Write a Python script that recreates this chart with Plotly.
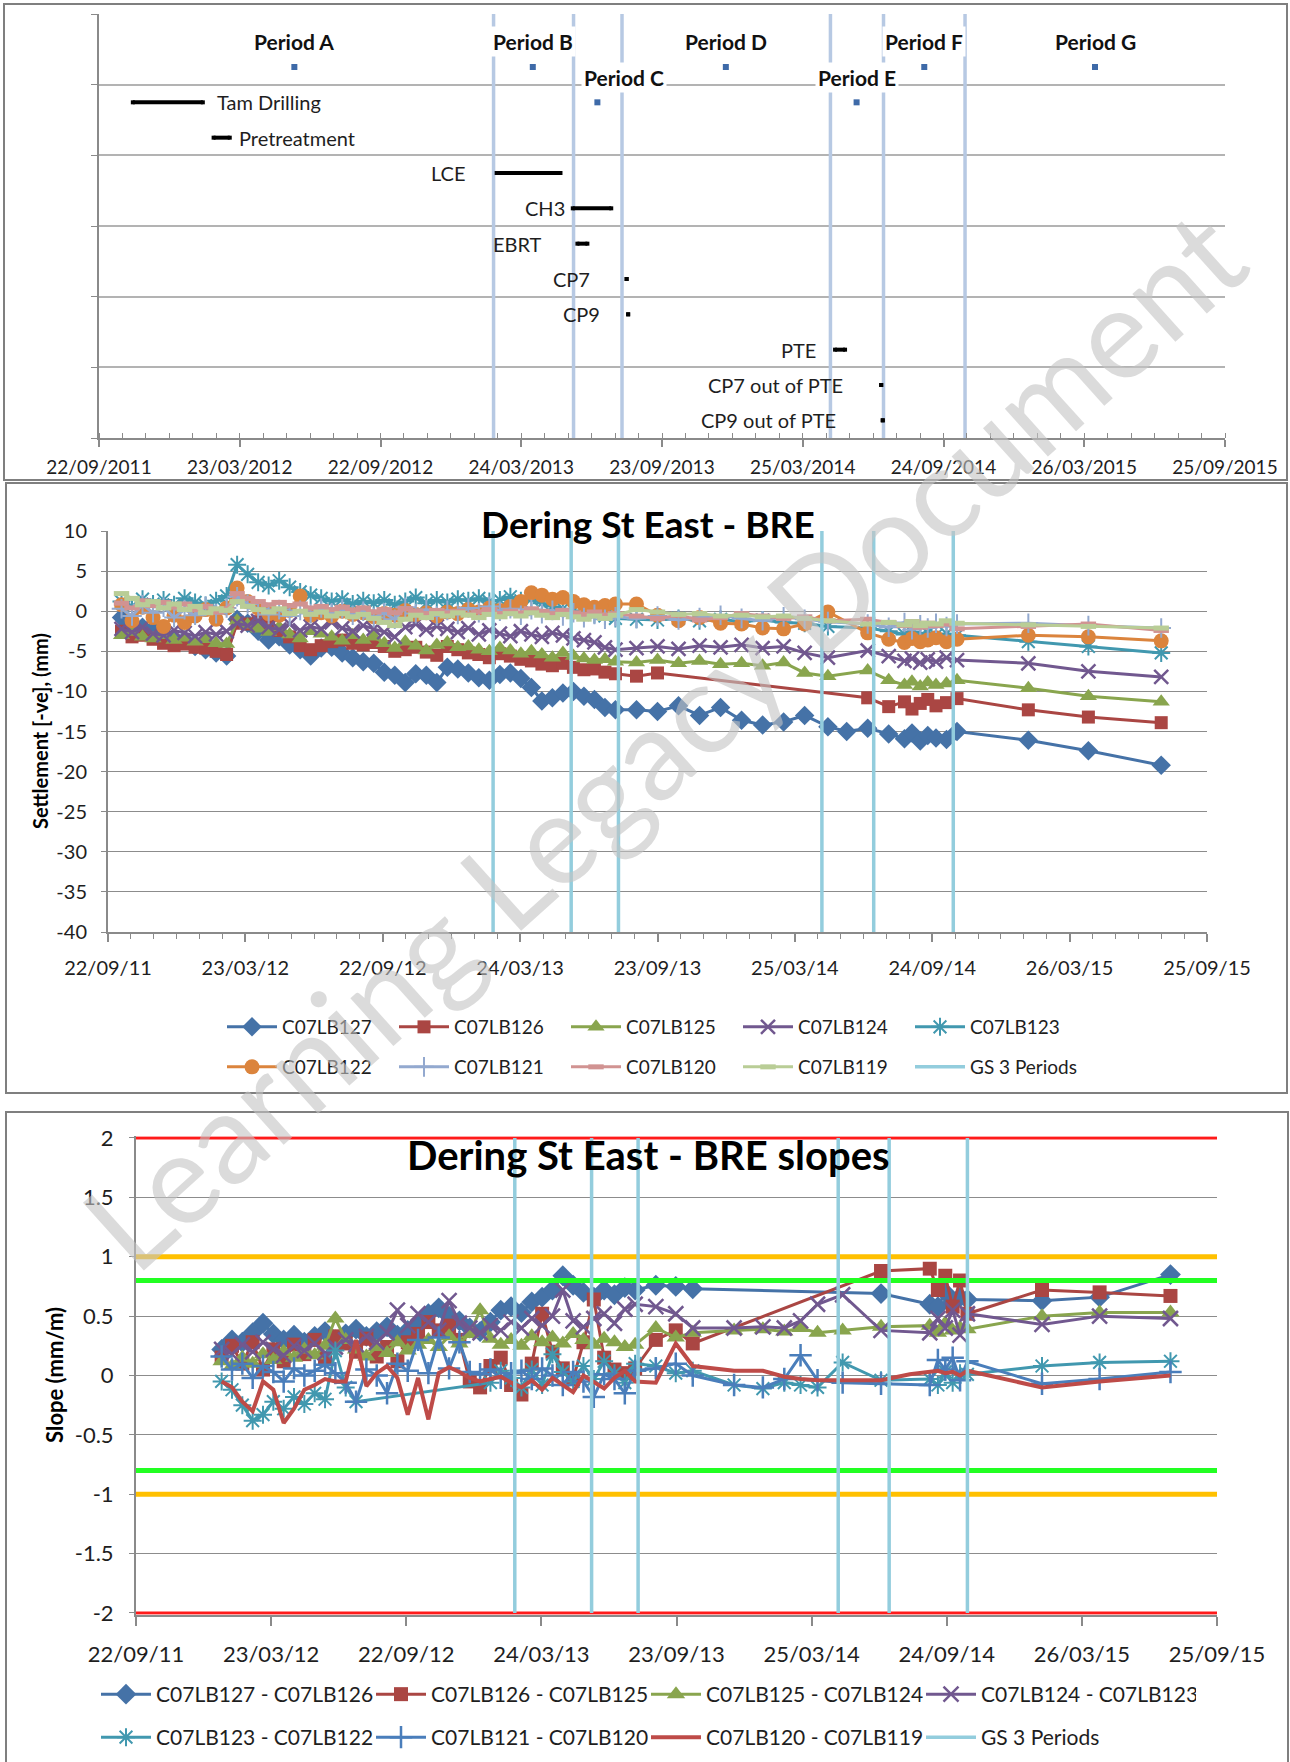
import plotly.graph_objects as go

W, H = 1290, 1762
FONT = "Lato, 'Open Sans', 'DejaVu Sans', sans-serif"

# ---------------- shared axis data ----------------
x_range = ["2011-09-22", "2015-09-25"]
tick_dates = ["2011-09-22", "2012-03-23", "2012-09-22", "2013-03-24", "2013-09-23",
              "2014-03-25", "2014-09-24", "2015-03-26", "2015-09-25"]
tick_text_long = ["22/09/2011", "23/03/2012", "22/09/2012", "24/03/2013", "23/09/2013",
                  "25/03/2014", "24/09/2014", "26/03/2015", "25/09/2015"]
tick_text_short = ["22/09/11", "23/03/12", "22/09/12", "24/03/13", "23/09/13",
                   "25/03/14", "24/09/14", "26/03/15", "25/09/15"]

# ---------------- top panel (programme) ----------------
period_bounds = ["2013-02-16", "2013-05-31", "2013-08-02", "2014-04-30", "2014-07-08", "2014-10-22"]
period_names = ["Period A", "Period B", "Period C", "Period D", "Period E", "Period F", "Period G"]
period_mid_dates = ["2012-06-02", "2013-04-08", "2013-07-01", "2013-12-15", "2014-06-03", "2014-08-30", "2015-04-09"]
period_rows = [5.25, 5.25, 4.75, 5.25, 4.75, 5.25, 5.25]

activity_names = ["Tam Drilling", "Pretreatment", "LCE", "CH3", "EBRT", "CP7", "CP9", "PTE",
                  "CP7 out of PTE", "CP9 out of PTE"]
activity_start = ["2011-11-05", "2012-02-18", "2013-02-20", "2013-05-30", "2013-06-05", "2013-08-08",
                  "2013-08-10", "2014-05-06", "2014-07-05", "2014-07-07"]
activity_end = ["2012-02-04", "2012-03-10", "2013-05-14", "2013-07-19", "2013-06-18", "2013-08-08",
                "2013-08-10", "2014-05-19", "2014-07-05", "2014-07-07"]
activity_rows = [4.75, 4.25, 3.75, 3.25, 2.75, 2.25, 1.75, 1.25, 0.75, 0.25]

# ---------------- settlement (mm) ----------------
settle_dates = ["2011-10-10", "2011-10-24", "2011-11-07", "2011-11-21", "2011-12-05", "2011-12-19",
                "2012-01-02", "2012-01-16", "2012-01-30", "2012-02-13", "2012-02-27", "2012-03-12",
                "2012-03-26", "2012-04-09", "2012-04-23", "2012-05-07", "2012-05-21", "2012-06-04",
                "2012-06-18", "2012-07-02", "2012-07-16", "2012-07-30", "2012-08-13", "2012-08-27",
                "2012-09-10", "2012-09-24", "2012-10-08", "2012-10-22", "2012-11-05", "2012-11-19",
                "2012-12-03", "2012-12-17", "2012-12-31", "2013-01-14", "2013-01-28", "2013-02-11",
                "2013-02-25", "2013-03-11", "2013-03-25", "2013-04-08", "2013-04-22", "2013-05-06",
                "2013-05-20", "2013-06-03", "2013-06-17", "2013-07-01", "2013-07-15", "2013-07-29",
                "2013-08-26", "2013-09-23", "2013-10-21", "2013-11-18", "2013-12-16", "2014-01-13",
                "2014-02-10", "2014-03-10", "2014-04-07", "2014-05-08", "2014-06-02", "2014-06-30",
                "2014-07-28", "2014-08-18", "2014-08-28", "2014-09-08", "2014-09-18", "2014-09-29",
                "2014-10-13", "2014-10-27", "2015-01-30", "2015-04-20", "2015-07-26"]
N = None
lb127 = [-0.8, -1.5, -2.0, -2.3, -2.8, -3.5, -3.6, -4.4, -4.8, -5.2,
         -5.6, -1.0, -1.5, -2.5, -3.6, -3.2, -4.2, -4.8, -5.6, -4.6,
         -4.5, -5.2, -5.8, -6.3, -6.5, -7.6, -8.0, -8.9, -7.8, -8.0,
         -8.9, -7.0, -7.2, -7.7, -8.3, -8.6, -7.9, -7.7, -8.4, -9.5,
         -11.2, -10.8, -10.2, -10.0, -10.6, -11.0, -12.0, -12.3, -12.3, -12.5,
         -11.8, -13.0, -12.0, -13.6, -14.2, -13.8, -13.0, -14.4, -15.0, -14.6,
         -15.3, -15.9, -15.2, -16.2, -15.5, -15.8, -16.0, -15.0, -16.1, -17.4,
         -19.2]
lb126 = [-2.5, -3.2, -3.0, -3.5, -4.0, -4.3, -4.1, -4.5, -4.6, -5.0,
         -5.4, -1.5, -1.6, -1.3, -1.8, -2.4, -3.2, -4.3, -4.8, -4.3,
         -3.8, -3.6, -4.0, -4.2, -3.9, -4.4, -5.0, -4.8, -4.5, -5.1,
         -5.5, -4.4, -4.8, -5.2, -5.4, -5.8, -5.3, -5.6, -6.0, -6.2,
         -6.6, -6.8, -6.5, -7.0, -7.3, -7.2, -7.6, -7.8, -8.1, -7.7,
         N, N, N, N, N, N, N, N, N, -10.8,
         -11.9, -11.3, -12.2, -11.5, -11.0, -11.8, -11.4, -10.9, -12.3, -13.2,
         -13.9]
lb125 = [-3.0, -2.6, -3.2, -3.4, -3.0, -3.6, -3.3, -3.8, -3.5, -4.0,
         -4.1, -1.2, -1.7, -2.2, -2.6, -2.0, -2.9, -3.4, -2.5, -2.8,
         -3.2, -3.7, -3.0, -3.6, -3.2, -4.0, -4.6, -3.8, -4.3, -4.9,
         -4.2, -3.9, -4.5, -4.4, -4.8, -5.0, -4.6, -4.9, -5.3, -5.0,
         -5.4, -5.8, -5.2, -5.6, -5.9, -6.1, -6.0, -6.3, -6.4, -6.1,
         -6.5, -6.2, -6.6, -6.5, -6.8, -6.4, -7.7, -8.1, N, -7.4,
         -8.6, -9.2, -8.8, -9.4, -8.9, -9.2, -9.0, -8.6, -9.6, -10.6,
         -11.3]
lb124 = [-2.2, -2.6, -2.0, -2.8, -3.0, -2.4, -2.7, -3.1, -2.6, -2.9,
         -2.5, -1.5, -1.8, -1.2, -2.0, -2.3, -1.6, -2.4, -1.9, -2.2,
         -1.4, -2.1, -2.5, -1.8, -2.2, -2.6, -3.2, -2.0, -1.6, -2.3,
         -1.9, -2.2, -2.6, -2.1, -2.9, -2.4, -2.8, -3.1, -2.5, -2.9,
         -3.2, -2.7, -3.0, -3.4, -3.6, -3.9, -4.5, -4.8, -4.6, -4.4,
         -4.7, -4.3, -4.5, -4.2, -4.6, -4.4, -5.2, -5.8, N, -4.9,
         -5.6, -6.2, -5.9, -6.4, -6.0, -6.3, -5.8, -6.1, -6.5, -7.5,
         -8.2]
lb123 = [1.2, 0.6, 1.5, 0.9, 1.4, 0.8, 1.6, 1.1, 0.7, 1.3,
         1.9, 5.8, 4.6, 3.6, 3.2, 3.8, 3.0, 2.4, 2.0, 1.6,
         1.2, 1.5, 0.9, 1.3, 1.0, 1.4, 0.8, 1.2, 1.7, 1.0,
         1.4, 1.1, 1.5, 1.3, 1.6, 1.2, 1.4, 1.8, 1.3, 1.5,
         1.0, 0.6, 0.3, 0.1, -0.2, -0.4, -0.6, -0.9, -1.0, -1.1,
         -0.9, -1.2, -1.0, -1.3, -1.1, -1.4, -1.5, -1.9, N, -2.1,
         -2.5, -2.9, -2.6, -3.1, -2.7, -3.0, -2.8, -3.0, -3.8, -4.4,
         -5.2]
lb122 = [0.8, -1.2, 0.5, -0.8, -1.9, -0.5, -1.4, -0.6, 0.2, -1.0,
         0.4, 2.9, 1.2, 0.4, -0.3, -0.5, 0.1, 1.9, -0.5, -0.2,
         -0.6, 0.0, -0.4, -0.2, -0.7, -0.3, -0.5, 0.1, -0.4, -0.2,
         -0.6, -0.1, -0.3, 0.2, -0.1, 0.4, 0.1, 0.6, 1.2, 2.3,
         2.0, 1.5, 1.7, 1.2, 0.8, 0.5, 0.7, 0.9, 0.9, -0.5,
         -1.2, -0.8, -1.5, -1.6, -2.1, -2.2, -1.6, -0.1, N, -2.7,
         -3.5, -3.9, -3.4, -3.8, -3.6, -3.3, -3.8, -3.5, -3.0, -3.2,
         -3.7]
lb121 = [0.3, -0.6, 0.8, -0.2, 0.5, -0.8, 0.2, -0.5, 0.6, -0.3,
         0.4, 1.8, 0.9, 0.3, -0.4, 0.2, -0.6, 0.1, -0.3, 0.4,
         -0.2, 0.3, -0.5, 0.0, -0.8, -0.2, -1.0, 0.5, -0.3, 0.2,
         -0.6, 0.1, -0.4, 0.4, -0.2, 0.6, 0.0, 0.3, -0.5, 0.2,
         -0.3, 0.1, -0.6, -0.2, -0.8, -0.4, -1.0, -0.7, -0.9, -0.6,
         -1.1, -0.8, -0.5, -0.9, -1.2, -0.7, -1.0, -1.3, N, -1.6,
         -2.0, -1.4, -2.3, -1.7, -2.1, -1.5, -1.9, -1.6, -1.5, -1.8,
         -2.1]
lb120 = [1.0, 0.4, 1.3, 0.7, 1.1, 0.5, 0.9, 0.2, 0.6, -0.1,
         0.3, 2.2, 1.6, 1.2, 0.8, 1.1, 0.7, 0.9, 0.4, 0.6,
         0.2, 0.5, 0.1, 0.4, -0.1, 0.2, -0.2, 0.3, 0.0, -0.3,
         0.1, -0.2, 0.0, -0.4, -0.1, 0.2, -0.3, 0.0, -0.2, 0.3,
         0.0, -0.3, 0.1, -0.2, -0.4, -0.1, -0.5, -0.3, -0.6, -0.9,
         -0.5, -1.1, -0.8, -0.3, -0.6, -0.9, -0.7, -1.2, N, -1.0,
         -1.4, -1.8, -1.3, -2.0, -1.5, -1.8, -1.6, -2.2, -1.9, -1.6,
         -2.4]
lb119 = [2.2, 1.6, 0.8, 1.2, 0.4, 0.9, 0.2, 0.6, -0.2, 0.3,
         0.1, 1.2, 0.6, 0.2, -0.1, 0.3, -0.3, 0.0, -0.4, -0.1,
         -0.6, -0.3, -0.7, -0.4, -0.9, -1.4, -1.8, -1.0, -0.5, -0.8,
         -0.3, -0.6, -0.2, -0.5, -0.8, -0.4, -0.7, -0.3, -0.6, -0.2,
         -0.5, -0.8, -0.4, -0.7, -1.0, -0.6, -0.9, -0.5, 0.2, -0.1,
         -0.4, -0.3, -0.6, -0.5, -0.7, -0.6, -0.9, -1.2, N, -1.6,
         -1.4, -1.7, -1.3, -1.8, -1.5, -1.6, -1.2, -1.5, -1.7, -1.9,
         -2.1]
settle_yticks = [10, 5, 0, -5, -10, -15, -20, -25, -30, -35, -40]
settle_yticktext = ["10", "5", "0", "-5", "-10", "-15", "-20", "-25", "-30", "-35", "-40"]
settle_gs_span = [10, -40]

# ---------------- slopes (mm/m) ----------------
slope_dates = ["2012-01-16", "2012-01-30", "2012-02-13", "2012-02-27", "2012-03-12", "2012-03-26",
               "2012-04-09", "2012-04-23", "2012-05-07", "2012-05-21", "2012-06-04", "2012-06-18",
               "2012-07-02", "2012-07-16", "2012-07-30", "2012-08-13", "2012-08-27", "2012-09-10",
               "2012-09-24", "2012-10-08", "2012-10-22", "2012-11-05", "2012-11-19", "2012-12-03",
               "2012-12-17", "2012-12-31", "2013-01-14", "2013-01-28", "2013-02-11", "2013-02-25",
               "2013-03-11", "2013-03-25", "2013-04-08", "2013-04-22", "2013-05-06", "2013-05-20",
               "2013-06-03", "2013-06-17", "2013-07-01", "2013-07-15", "2013-07-29",
               "2013-08-26", "2013-09-22", "2013-10-15", "2013-12-10", "2014-01-18", "2014-02-16",
               "2014-03-10", "2014-04-02", "2014-05-06", "2014-06-27", "2014-08-05", "2014-09-01",
               "2014-09-12", "2014-09-22", "2014-10-02", "2014-10-12", "2014-10-22", "2015-01-31",
               "2015-04-19", "2015-07-24"]
s127_126 = [0.22, 0.30, 0.28, 0.36, 0.44, 0.35, 0.30, 0.34, 0.28, 0.33,
            0.37, 0.30, 0.35, 0.39, 0.33, 0.37, 0.41, 0.34, 0.38, 0.44,
            0.52, 0.57, 0.50, 0.46, 0.40, 0.37, 0.45, 0.55, 0.58, 0.53,
            0.62, 0.66, 0.72, 0.84, 0.76, 0.70, 0.66, 0.72, 0.68, 0.74,
            0.72,
            0.76, 0.75, 0.73, N, N, N, N, N, N, 0.69,
            N, 0.60, 0.58, 0.70, 0.62, 0.66, 0.64, 0.63, 0.66, 0.85]
s126_125 = [0.15, 0.25, 0.10, 0.28, 0.05, 0.22, 0.12, 0.26, 0.18, 0.30,
            0.14, 0.33, 0.27, 0.20, 0.31, 0.16, 0.24, 0.12, 0.28, 0.35,
            0.45, 0.38, 0.42, 0.30, -0.05, -0.10, 0.08, 0.15, -0.08, -0.16,
            0.10, 0.52, 0.20, 0.06, -0.03, 0.28, 0.64, 0.15, 0.05, 0.02,
            0.06,
            0.30, 0.38, 0.27, N, N, N, N, N, N, 0.88,
            N, 0.90, 0.72, 0.84, 0.58, 0.80, 0.52, 0.72, 0.70, 0.67]
s125_124 = [0.12, 0.08, 0.15, 0.10, 0.18, 0.13, 0.20, 0.15, 0.22, 0.17,
            0.25, 0.48, 0.30, 0.22, 0.16, 0.24, 0.19, 0.28, 0.21, 0.26,
            0.30, 0.24, 0.33, 0.27, 0.35, 0.55, 0.31, 0.26, 0.30, 0.25,
            0.33, 0.28, 0.32, 0.27, 0.35, 0.30, 0.26, 0.31, 0.28, 0.24,
            0.26,
            0.40, 0.32, 0.36, 0.38, 0.39, 0.37, 0.40, 0.36, 0.38, 0.41,
            N, 0.42, 0.36, 0.44, 0.38, 0.40, 0.39, 0.50, 0.53, 0.53]
s124_123 = [0.22, 0.18, 0.26, 0.20, 0.28, 0.22, 0.17, 0.25, 0.21, 0.27,
            0.19, 0.24, 0.30, 0.26, 0.33, 0.28, 0.36, 0.55, 0.42, 0.52,
            0.45, 0.38, 0.63, 0.44, 0.40, 0.36, 0.42, 0.38, 0.45, 0.40,
            0.48, 0.42, 0.50, 0.72, 0.46, 0.41, 0.48, 0.52, 0.44, 0.56,
            0.60,
            0.58, 0.52, 0.40, 0.40, 0.41, 0.40, 0.46, 0.60, 0.68, 0.38,
            N, 0.36, 0.48, 0.40, 0.55, 0.34, 0.52, 0.43, 0.50, 0.48]
s123_122 = [-0.05, -0.12, -0.25, -0.38, -0.33, -0.22, -0.28, -0.18, -0.24, -0.15,
            -0.20, 0.21, -0.10, -0.22, N, N, N, N, N, N,
            N, N, N, N, N, N, -0.06, 0.04, -0.02, -0.10,
            0.05, -0.08, 0.18, 0.03, -0.05, 0.08, -0.03, 0.12, 0.02, -0.06,
            0.10,
            0.08, 0.02, 0.04, -0.08, -0.11, -0.06, -0.08, -0.10, 0.11, -0.04,
            N, -0.03, -0.08, 0.03, -0.06, 0.02, 0.01, 0.08, 0.11, 0.12]
s121_120 = [0.16, 0.05, 0.10, -0.02, 0.08, 0.03, -0.05, 0.06, 0.00, 0.04,
            0.09, 0.02, -0.06, -0.22, 0.05, 0.00, -0.15, 0.10, 0.04, 0.30,
            0.02, 0.32, 0.06, 0.28, 0.03, 0.01, 0.05, -0.02, 0.02, 0.04,
            -0.03, 0.06, 0.00, -0.08, 0.03, -0.05, -0.18, 0.01, -0.03, -0.15,
            0.04,
            0.06, 0.10, 0.00, -0.08, -0.10, -0.03, 0.17, -0.04, -0.06, -0.07,
            N, -0.08, 0.13, 0.05, 0.15, -0.04, 0.12, -0.07, -0.03, 0.03]
s120_119 = [-0.05, -0.10, -0.22, -0.30, -0.05, -0.12, -0.40, -0.28, -0.12, -0.08,
            -0.03, -0.05, -0.05, 0.30, -0.09, 0.02, 0.08, -0.02, -0.33, -0.02,
            -0.37, 0.02, 0.07, 0.03, -0.02, -0.05, -0.03, -0.01, -0.06, -0.10,
            -0.04, -0.12, -0.02, -0.08, -0.14, 0.00, -0.06, -0.11, -0.02, 0.04,
            -0.05,
            -0.06, 0.27, 0.08, 0.04, 0.04, -0.01, -0.03, -0.04, -0.04, -0.04,
            0.01, 0.03, 0.04, 0.02, 0.03, 0.00, 0.04, -0.10, -0.05, 0.00]
slope_yticks = [2, 1.5, 1, 0.5, 0, -0.5, -1, -1.5, -2]
slope_yticktext = ["2", "1.5", "1", "0.5", "0", "-0.5", "-1", "-1.5", "-2"]
slope_gs_span = [2, -2]
limit_red = [2, -2]
limit_orange = [1, -1]
limit_green = [0.8, -0.8]


# ---------------- helpers ----------------
def px(p):
    return p / W


def py(p):
    return 1 - p / H


def gs_xy(bounds, span):
    xs, ys = [], []
    for d in bounds:
        xs += [d, d, None]
        ys += [span[0], span[1], None]
    return xs, ys


fig = go.Figure()
annotations = []
AXC = "#8a8a8a"
TXT = "#1e1e1e"

# ================= TOP PANEL =================
gx, gy = gs_xy(period_bounds, [6, 0])
fig.add_trace(go.Scatter(x=gx, y=gy, mode="lines", line=dict(color="#b7c9e3", width=3.5),
                         xaxis="x", yaxis="y", showlegend=False, hoverinfo="skip"))

label_side = ["right", "right", "left", "left", "left", "left", "left", "left", "left", "left"]
label_gap = [12, 7, 29, 6, 33, 35, 26, 17, 36, 45]
for name, s, e, r, side, gap in zip(activity_names, activity_start, activity_end, activity_rows,
                                     label_side, label_gap):
    fig.add_trace(go.Scatter(x=[s, e], y=[r, r], mode="lines+markers",
                             line=dict(color="black", width=4),
                             marker=dict(color="black", size=4, symbol="square"),
                             xaxis="x", yaxis="y", showlegend=False, hoverinfo="skip"))
    if side == "right":
        annotations.append(dict(x=e, y=r, xref="x", yref="y", text=name, showarrow=False,
                                xanchor="left", yanchor="middle", xshift=gap,
                                font=dict(family=FONT, size=20, color=TXT)))
    else:
        annotations.append(dict(x=s, y=r, xref="x", yref="y", text=name, showarrow=False,
                                xanchor="right", yanchor="middle", xshift=-gap,
                                font=dict(family=FONT, size=20, color=TXT)))

fig.add_trace(go.Scatter(x=period_mid_dates, y=period_rows, mode="markers",
                         marker=dict(color="#3e6aa8", size=6, symbol="square"),
                         xaxis="x", yaxis="y", showlegend=False, hoverinfo="skip"))
period_label_xshift = [0, 0, 27, 0, 0, 0, 0]
for name, d, r, xs in zip(period_names, period_mid_dates, period_rows, period_label_xshift):
    annotations.append(dict(x=d, y=r, xref="x", yref="y", text=name, showarrow=False,
                            xanchor="center", yanchor="middle", yshift=25, xshift=xs,
                            bgcolor="white", borderpad=2,
                            font=dict(family=FONT, size=21, color="#111", weight="bold")))

# ================= MIDDLE PANEL =================
settle_series = [
    ("C07LB127", lb127, "#4572A7", "diamond", 15, 0, "legend"),
    ("C07LB126", lb126, "#AA4643", "square", 13, 0, "legend"),
    ("C07LB125", lb125, "#89A54E", "triangle-up", 15, 0, "legend"),
    ("C07LB124", lb124, "#71588F", "x-thin", 14, 2.5, "legend"),
    ("C07LB123", lb123, "#4198AF", "asterisk", 15, 2, "legend"),
    ("C07LB122", lb122, "#DB843D", "circle", 15, 0, "legend2"),
    ("C07LB121", lb121, "#93A9CF", "cross-thin", 14, 2, "legend2"),
    ("C07LB120", lb120, "#D19392", "line-ew", 11, 5, "legend2"),
    ("C07LB119", lb119, "#B9CD96", "line-ew", 11, 5, "legend2"),
]
for name, vals, col, sym, size, lw, leg in settle_series:
    fig.add_trace(go.Scatter(
        x=settle_dates, y=vals, name=name, mode="lines+markers", connectgaps=True,
        line=dict(color=col, width=3),
        marker=dict(symbol=sym, size=size, color=col, line=dict(color=col, width=lw)),
        xaxis="x2", yaxis="y2", legend=leg, hoverinfo="skip"))
gx, gy = gs_xy(period_bounds, settle_gs_span)
fig.add_trace(go.Scatter(x=gx, y=gy, name="GS 3 Periods", mode="lines",
                         line=dict(color="#93CDDD", width=3.5),
                         xaxis="x2", yaxis="y2", legend="legend2", hoverinfo="skip"))

# ================= BOTTOM PANEL =================
slope_series = [
    ("C07LB127 - C07LB126", s127_126, "#4572A7", "diamond", 16, 0, "legend3"),
    ("C07LB126 - C07LB125", s126_125, "#AA4643", "square", 14, 0, "legend3"),
    ("C07LB125 - C07LB124", s125_124, "#89A54E", "triangle-up", 16, 0, "legend3"),
    ("C07LB124 - C07LB123", s124_123, "#71588F", "x-thin", 15, 2.5, "legend3"),
    ("C07LB123 - C07LB122", s123_122, "#4198AF", "asterisk", 15, 2, "legend4"),
    ("C07LB121 - C07LB120", s121_120, "#4A7EBB", "cross-thin", 16, 2.5, "legend4"),
    ("C07LB120 - C07LB119", s120_119, "#BE4B48", None, 0, 0, "legend4"),
]
for name, vals, col, sym, size, lw, leg in slope_series:
    if sym is None:
        fig.add_trace(go.Scatter(x=slope_dates, y=vals, name=name, mode="lines", connectgaps=True,
                                 line=dict(color=col, width=4),
                                 xaxis="x3", yaxis="y3", legend=leg, hoverinfo="skip"))
    else:
        fig.add_trace(go.Scatter(
            x=slope_dates, y=vals, name=name, mode="lines+markers", connectgaps=True,
            line=dict(color=col, width=3),
            marker=dict(symbol=sym, size=size, color=col, line=dict(color=col, width=lw)),
            xaxis="x3", yaxis="y3", legend=leg, hoverinfo="skip"))

for vals, col, wdt in [(limit_green, "#22ff22", 5), (limit_orange, "#ffc000", 5), (limit_red, "#ff1a1a", 3)]:
    for v in vals:
        fig.add_trace(go.Scatter(x=x_range, y=[v, v], mode="lines", line=dict(color=col, width=wdt),
                                 xaxis="x3", yaxis="y3", showlegend=False, hoverinfo="skip"))
gx, gy = gs_xy(period_bounds, slope_gs_span)
fig.add_trace(go.Scatter(x=gx, y=gy, name="GS 3 Periods", mode="lines",
                         line=dict(color="#93CDDD", width=3.5),
                         xaxis="x3", yaxis="y3", legend="legend4", hoverinfo="skip"))

# ================= titles / labels =================
annotations += [
    dict(x=px(648), y=py(524), xref="paper", yref="paper", text="Dering St East - BRE",
         showarrow=False, xanchor="center", yanchor="middle",
         font=dict(family=FONT, size=37, color="black", weight="bold")),
    dict(x=px(648), y=py(1155), xref="paper", yref="paper", text="Dering St East - BRE slopes",
         showarrow=False, xanchor="center", yanchor="middle",
         font=dict(family=FONT, size=40, color="black", weight="bold")),
    dict(x=px(40), y=py(731), xref="paper", yref="paper", text="Settlement [-ve], (mm)",
         showarrow=False, textangle=-90, xanchor="center", yanchor="middle",
         font=dict(family=FONT, size=20, color="black", weight="bold")),
    dict(x=px(54), y=py(1375), xref="paper", yref="paper", text="Slope (mm/m)",
         showarrow=False, textangle=-90, xanchor="center", yanchor="middle",
         font=dict(family=FONT, size=22, color="black", weight="bold")),
    dict(x=px(662), y=py(738), xref="paper", yref="paper", text="Learning Legacy Document",
         showarrow=False, textangle=-42, xanchor="center", yanchor="middle",
         font=dict(family=FONT, size=127, color="rgba(195,195,195,0.6)")),
]

# panel borders
shapes = []
for x0, y0, x1, y1 in [(4, 4, 1287, 480), (6, 483, 1287, 1093), (6, 1112, 1288, 1800)]:
    shapes.append(dict(type="rect", xref="paper", yref="paper", x0=px(x0), x1=px(x1),
                       y0=py(y1), y1=py(y0), line=dict(color="#7f7f7f", width=2), layer="above"))

MINOR_DT = 30.5 * 86400000


def date_axis(domain, anchor, ticktext, size, standoff, minor_ticks, ticklen):
    d = dict(domain=domain, anchor=anchor, type="date", range=x_range, tickmode="array",
             tickvals=tick_dates, ticktext=ticktext, ticks="outside", ticklen=ticklen, tickwidth=1.5,
             tickcolor=AXC, showline=True, linecolor=AXC, linewidth=2, showgrid=False,
             zeroline=False, ticklabelstandoff=standoff,
             tickfont=dict(family=FONT, size=size, color=TXT), fixedrange=True)
    if minor_ticks:
        d["minor"] = dict(ticks=minor_ticks, ticklen=5, tickwidth=1.2, tickcolor=AXC,
                          tickmode="linear", tick0=x_range[0], dtick=MINOR_DT, showgrid=False)
    return d


layout_legend = dict(orientation="h", xanchor="left", yanchor="top", entrywidthmode="pixels",
                     itemwidth=50, bgcolor="rgba(0,0,0,0)", borderwidth=0, itemclick=False,
                     itemdoubleclick=False, traceorder="normal")


def leg(xp, yp, size, entry):
    d = dict(layout_legend)
    d.update(x=px(xp), y=py(yp), entrywidth=entry,
             font=dict(family=FONT, size=size, color=TXT))
    return d


slope_pad = 0.015
fig.update_layout(
    width=W, height=H, margin=dict(l=0, r=0, t=0, b=0, pad=0, autoexpand=False),
    paper_bgcolor="white", plot_bgcolor="white", showlegend=True,
    xaxis=date_axis([px(99), px(1225)], "y", tick_text_long, 19, 4, "inside", 7),
    yaxis=dict(domain=[py(438), py(14)], anchor="x", range=[0, 6], tickmode="linear", tick0=0, dtick=1,
               showticklabels=False, ticks="outside", ticklen=6, tickcolor=AXC, showgrid=True,
               gridcolor="#b3b3b3", gridwidth=2, showline=True, linecolor=AXC, linewidth=2,
               zeroline=False, fixedrange=True),
    xaxis2=date_axis([px(108), px(1207)], "y2", tick_text_short, 20, 9, "outside", 8),
    yaxis2=dict(domain=[py(932), py(531)], anchor="x2", range=[-40, 10], tickmode="array",
                tickvals=settle_yticks, ticktext=settle_yticktext, ticks="outside", ticklen=5,
                tickcolor=AXC, showgrid=True, gridcolor="#8c8c8c", gridwidth=1, showline=True,
                linecolor=AXC, linewidth=2, zeroline=False, ticklabelstandoff=10,
                tickfont=dict(family=FONT, size=20, color=TXT), fixedrange=True),
    xaxis3=date_axis([px(136), px(1217)], "y3", tick_text_short, 22, 10, None, 9),
    yaxis3=dict(domain=[py(1613 + slope_pad * 118.75), py(1138 - slope_pad * 118.75)], anchor="x3",
                range=[-2 - slope_pad, 2 + slope_pad], tickmode="array",
                tickvals=slope_yticks, ticktext=slope_yticktext, ticks="outside", ticklen=5,
                tickcolor=AXC, showgrid=True, gridcolor="#8c8c8c", gridwidth=1, showline=True,
                linecolor=AXC, linewidth=2, zeroline=False, ticklabelstandoff=11,
                tickfont=dict(family=FONT, size=22, color=TXT), fixedrange=True),
    legend=leg(222, 1008, 19, 107),
    legend2=leg(222, 1048, 19, 107),
    legend3=leg(96, 1674, 21, 210),
    legend4=leg(96, 1717, 21, 210),
    annotations=annotations,
    shapes=shapes,
)

fig.write_html("out.html", config={"displayModeBar": False},
               post_script="document.body.style.margin='0';document.body.style.overflow='hidden';")
